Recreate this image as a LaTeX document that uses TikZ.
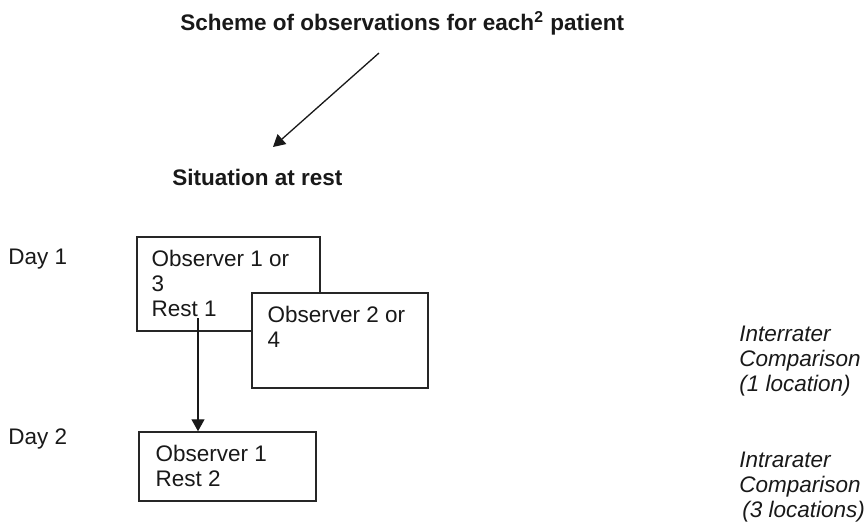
\documentclass[tikz,border=0pt]{standalone}
\usepackage{fontspec}
\setmainfont{Liberation Sans}
\usetikzlibrary{arrows.meta}
\tikzstyle{plain} = [
	anchor=base west,
	inner sep=0pt,
	align=left,
	text=black!90,
	font=\fontsize{11.25}{12.5}\selectfont
]
\tikzstyle{heading} = [
	plain,
	font=\fontsize{11.25}{12.5}\selectfont\bfseries
]
\tikzstyle{remark} = [
	plain,
	font=\fontsize{11.25}{12.5}\selectfont\itshape
]
\tikzstyle{obsbox} = [
	rectangle,
	inner sep=0pt,
	draw=black!85,
	line width=0.75pt,
	fill=white
]
\tikzstyle{arrow} = [line width=0.65pt, draw=black!90, -{Triangle[length=6pt,width=6.5pt]}]
\begin{document}
\begin{tikzpicture}[x=0.5pt, y=-0.5pt]
		\useasboundingbox (0,0) rectangle (868,526);

		\node (title) [heading] at (180,30) {Scheme of observations for each\textsuperscript{2} patient};
		\node (rest) [heading] at (172,185) {Situation at rest};

		\node (day1) [plain] at (8,264) {Day 1};
		\node (day2) [plain] at (8,444) {Day 2};

		\node (obs13) [obsbox, minimum width=91.5pt, minimum height=47pt] at (228.5,284) {};
		\node (obs13text) [plain] at ([xshift=7.5pt, yshift=-40pt]obs13.north west) {Observer 1 or\\3\\Rest 1};
		\node (obs24) [obsbox, minimum width=88pt, minimum height=47.5pt] at (340,340.5) {};
		\node (obs24text) [plain] at ([xshift=8pt, yshift=-27.5pt]obs24.north west) {Observer 2 or\\4};
		\node (obs1) [obsbox, minimum width=88.5pt, minimum height=34.5pt] at (227.5,466.5) {};
		\node (obs1text) [plain] at ([xshift=8.5pt, yshift=-27.5pt]obs1.north west) {Observer 1\\Rest 2};

		\node (inter) [remark] at (739,391) {Interrater\\Comparison\\(1 location)};
		\node (intra) [remark] at (739,517) {Intrarater\\Comparison\\\hspace*{1.5pt}(3 locations)};

		\coordinate (tstart) at (379,53);
		\coordinate (tend) at (273,147);
		\coordinate (rest1) at (198,318);

		\draw [arrow] (tstart) -- (tend);
		\draw [arrow] (rest1) -- (rest1 |- obs1.north);
	\end{tikzpicture}
\end{document}
